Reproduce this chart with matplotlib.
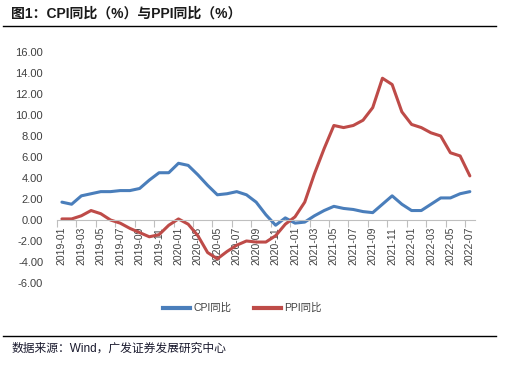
import matplotlib.pyplot as plt
import numpy as np
from matplotlib.lines import Line2D

# Monthly year-on-year CPI and PPI, 2019-01 .. 2022-07
months = [f"{y}-{m:02d}" for y in range(2019, 2023) for m in range(1, 13)][:43]
cpi = [1.7, 1.5, 2.3, 2.5, 2.7, 2.7, 2.8, 2.8, 3.0, 3.8, 4.5, 4.5,
       5.4, 5.2, 4.3, 3.3, 2.4, 2.5, 2.7, 2.4, 1.7, 0.5, -0.5, 0.2,
       -0.3, -0.2, 0.4, 0.9, 1.3, 1.1, 1.0, 0.8, 0.7, 1.5, 2.3, 1.5,
       0.9, 0.9, 1.5, 2.1, 2.1, 2.5, 2.7]
ppi = [0.1, 0.1, 0.4, 0.9, 0.6, 0.0, -0.3, -0.8, -1.2, -1.6, -1.4, -0.5,
       0.1, -0.4, -1.5, -3.1, -3.7, -3.0, -2.4, -2.0, -2.1, -2.1, -1.5, -0.4,
       0.3, 1.7, 4.4, 6.8, 9.0, 8.8, 9.0, 9.5, 10.7, 13.5, 12.9, 10.3,
       9.1, 8.8, 8.3, 8.0, 6.4, 6.1, 4.2]
y_ticks = [-6, -4, -2, 0, 2, 4, 6, 8, 10, 12, 14, 16]

BLUE = "#4a7ebb"
RED = "#be4b48"
GREY = "#404040"

plt.rcParams["font.family"] = ["Liberation Sans", "Noto Sans CJK SC", "DejaVu Sans"]

fig = plt.figure(figsize=(5.05, 3.66), dpi=100)
ax = fig.add_axes([0.113, 0.2268, 0.827, 0.6312])

# move the category axis to y=0 first: set_position resets tick styling
for side in ["left", "right", "top"]:
    ax.spines[side].set_visible(False)
ax.spines["bottom"].set_position(("data", 0))
ax.spines["bottom"].set_color("#bfbfbf")
ax.spines["bottom"].set_linewidth(0.8)

x = np.arange(len(months))
ax.plot(x, cpi, color=BLUE, lw=2.2, solid_joinstyle="round", solid_capstyle="round")
ax.plot(x, ppi, color=RED, lw=2.2, solid_joinstyle="round", solid_capstyle="round")

ax.set_xlim(-0.5, len(months) - 0.5)
ax.set_ylim(-6, 16)
ax.set_yticks(y_ticks)
ax.set_yticklabels([f"{v:.2f}" for v in y_ticks])
ax.tick_params(axis="y", length=0, labelsize=8, labelcolor=GREY, pad=10)

# category labels every other month, tick marks at category boundaries
ax.set_xticks(x[::2])
ax.set_xticklabels(months[::2], rotation=90)
ax.set_xticks(np.arange(-0.5, len(months) - 1, 2), minor=True)
ax.tick_params(axis="x", which="major", length=0, labelsize=7.5, labelcolor=GREY, pad=5)
ax.tick_params(axis="x", which="minor", length=5, width=0.8, color="#bfbfbf")

handles = [Line2D([], [], color=BLUE, lw=3), Line2D([], [], color=RED, lw=3)]
fig.legend(handles, ["CPI同比", "PPI同比"], loc="center", bbox_to_anchor=(0.48, 0.158),
           ncol=2, frameon=False, fontsize=7.5, handlelength=2.6, handletextpad=0.3,
           columnspacing=2.2, labelcolor=GREY)

fig.text(0.022, 0.962, "图1：CPI同比（%）与PPI同比（%）", fontsize=10, fontweight="bold",
         va="center", ha="left", color="#1a1a1a")
fig.add_artist(Line2D([0.006, 0.982], [0.929, 0.929], color="black", lw=1))
fig.add_artist(Line2D([0.006, 0.982], [0.082, 0.082], color="black", lw=1))
fig.text(0.022, 0.047, "数据来源：Wind，广发证券发展研究中心", fontsize=8.5,
         va="center", ha="left", color="#1a1a2e")

fig.savefig("out.png", dpi=100)
